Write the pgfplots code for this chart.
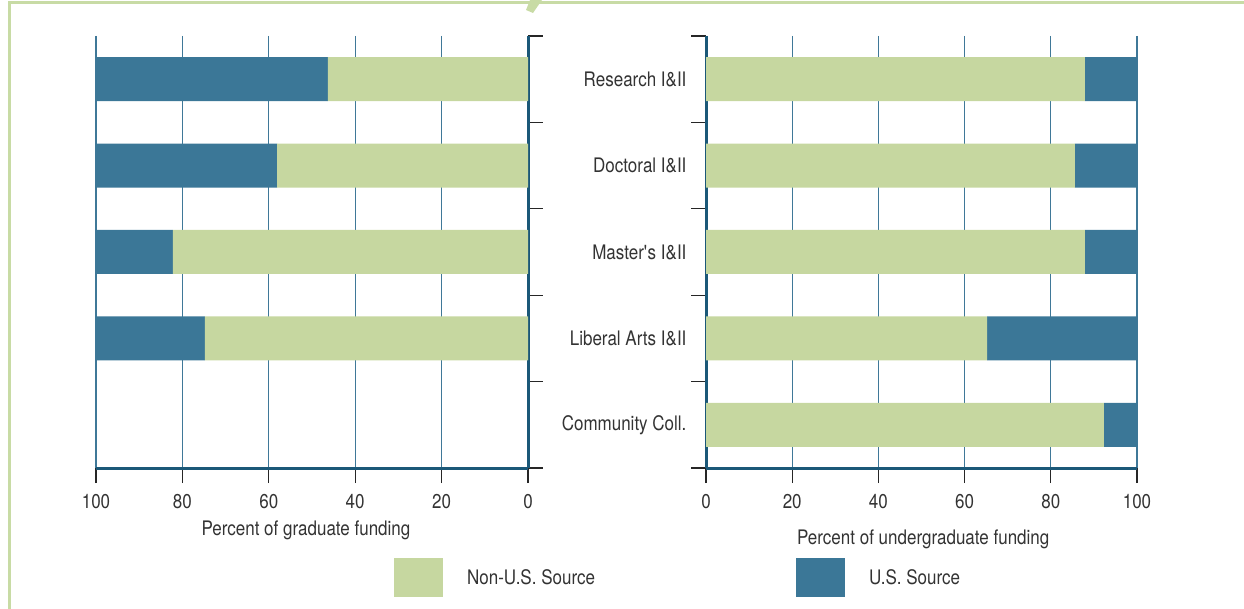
\documentclass[border=0pt]{standalone}
\usepackage{pgfplots}
\pgfplotsset{compat=1.18}
\usepackage{fontspec}
\setmainfont{TeX Gyre Heros}[FakeStretch=0.85]
\definecolor{lgreen}{HTML}{C6D7A0}
\definecolor{dblue}{HTML}{3B7797}
\definecolor{axblue}{HTML}{1B5878}
\definecolor{gridblue}{HTML}{3F7898}
\definecolor{framec}{HTML}{C8DBA5}
\definecolor{txt}{HTML}{333333}
\newcommand{\fs}{\fontsize{20}{24}\selectfont}
\pgfplotsset{
  common/.style={
    scale only axis, anchor=south west,
    width=432pt, height=432pt,
    xbar stacked, bar width=44pt,
    xmin=0, xmax=100, ymin=-0.5, ymax=4.5,
    y dir=reverse,
    xtick={0,20,40,60,80,100},
    ytick={-0.5,0.5,1.5,2.5,3.5,4.5},
    yticklabels={},
    xmajorgrids, major grid style={gridblue, line width=1.3pt},
    tick align=outside, major tick length=15pt,
    tick style={black!85, line width=1.1pt},
    axis line style={axblue, line width=3pt, -},
    /pgf/number format/assume math mode=true,
    tick label style={font=\fs, text=txt},
    xticklabel style={yshift=-8pt},
    label style={font=\fs, text=txt},
    legend style={draw=none, fill=none, inner sep=0pt, outer sep=0pt, anchor=west,
      nodes={inner sep=0pt, font=\fs, text=txt},
      /tikz/every odd column/.append style={column sep=24pt}},
    legend image code/.code={\fill[##1] (0pt,-19.5pt) rectangle (49pt,19.5pt);},
  }
}
\begin{document}
\begin{tikzpicture}
\useasboundingbox (0pt,0pt) rectangle (1244pt,609pt);
\draw[framec, line width=3pt] (9.5pt,0pt) -- (9.5pt,606.5pt) -- (1244pt,606.5pt);
\fill[framec] (530pt,609pt) -- (542pt,609pt) -- (533pt,596pt) -- (526pt,599pt) -- cycle;

\begin{axis}[common, at={(96pt,141pt)}, x dir=reverse,
  axis x line*=bottom, axis y line*=right,
  xlabel={Percent of graduate funding},
  xlabel style={at={(axis description cs:0.486,0)}, anchor=center, yshift=-62pt},
  legend style={at={(axis description cs:0.690,-0.2540)}},
]
\addplot[fill=lgreen, draw=none] coordinates {(46.3,0) (58.1,1) (82.2,2) (74.8,3)};
\addlegendentry{Non-U.S. Source}
\addplot[fill=dblue, draw=none, forget plot] coordinates {(53.7,0) (41.9,1) (17.8,2) (25.2,3)};
\end{axis}

\begin{axis}[common, at={(706pt,141pt)}, width=431pt,
  axis x line*=bottom, axis y line*=left,
  extra y ticks={0,1,2,3,4},
  extra y tick labels={Research I\&II, Doctoral I\&II, Master\textquotesingle s I\&II, Liberal Arts I\&II, Community Coll.},
  extra y tick style={major tick length=0pt, yticklabel style={xshift=-16pt}},
  xlabel={Percent of undergraduate funding},
  xlabel style={at={(axis description cs:0.504,0)}, anchor=center, yshift=-71pt},
  legend style={at={(axis description cs:0.2088,-0.2540)}},
]
\addplot[fill=lgreen, draw=none, forget plot] coordinates {(87.9,0) (85.6,1) (87.9,2) (65.2,3) (92.3,4)};
\addplot[fill=dblue, draw=none] coordinates {(12.1,0) (14.4,1) (12.1,2) (34.8,3) (7.7,4)};
\addlegendentry{U.S. Source}
\end{axis}
\end{tikzpicture}
\end{document}
